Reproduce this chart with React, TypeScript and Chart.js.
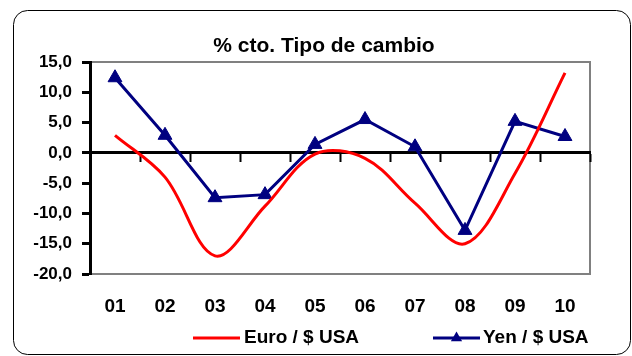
import React, { useEffect, useRef } from "react";
import { Chart, registerables } from "chart.js";

Chart.register(...registerables);

const categories = ["01", "02", "03", "04", "05", "06", "07", "08", "09", "10"];
const euroValues = [2.9, -4.0, -17.0, -8.8, -0.2, -0.9, -8.3, -15.0, -3.4, 13.2];
const yenValues = [12.4, 2.9, -7.4, -6.9, 1.4, 5.5, 1.0, -12.8, 5.2, 2.7];
const seriesLabels = ["Euro / $ USA", "Yen / $ USA"];
const seriesColors = ["#FF0000", "#000080"];
const chartTitle = "% cto. Tipo de cambio";
const yMin = -20;
const yMax = 15;
const yStep = 5;

const FONT = "'Liberation Sans', Arial, Helvetica, sans-serif";

const framePlugin = {
  id: "frame",
  beforeDraw(chart: any) {
    const ctx = chart.ctx;
    const a = chart.chartArea;
    ctx.save();
    ctx.fillStyle = "#ffffff";
    ctx.fillRect(0, 0, chart.width, chart.height);
    // outer rounded border
    ctx.strokeStyle = "#000000";
    ctx.lineWidth = 1;
    ctx.beginPath();
    (ctx as any).roundRect(13.5, 10.5, 617, 344, 14);
    ctx.stroke();
    // plot area gray border (top, right, bottom)
    ctx.strokeStyle = "#808080";
    ctx.lineWidth = 2;
    ctx.beginPath();
    ctx.moveTo(a.left, a.top);
    ctx.lineTo(a.right, a.top);
    ctx.lineTo(a.right, a.bottom);
    ctx.lineTo(a.left, a.bottom);
    ctx.stroke();
    ctx.restore();
  },
  afterDraw(chart: any) {
    const ctx = chart.ctx;
    ctx.save();
    // title
    ctx.fillStyle = "#000000";
    ctx.font = `bold 21px ${FONT}`;
    ctx.textAlign = "center";
    ctx.textBaseline = "middle";
    ctx.fillText(chartTitle, 324, 46);
    // legend
    const items = [
      { x0: 193, x1: 240, tx: 244, marker: false },
      { x0: 433, x1: 480, tx: 483, marker: true },
    ];
    const ly = 338;
    chart.data.datasets.forEach((ds: any, i: number) => {
      const it = items[i];
      ctx.strokeStyle = ds.borderColor;
      ctx.lineWidth = 3;
      ctx.beginPath();
      ctx.moveTo(it.x0, ly);
      ctx.lineTo(it.x1, ly);
      ctx.stroke();
      if (it.marker) {
        const cx = (it.x0 + it.x1) / 2;
        const r = 6.5;
        ctx.fillStyle = ds.borderColor;
        ctx.beginPath();
        ctx.moveTo(cx, ly - r);
        ctx.lineTo(cx + r * 0.866, ly + r * 0.5);
        ctx.lineTo(cx - r * 0.866, ly + r * 0.5);
        ctx.closePath();
        ctx.fill();
      }
      ctx.fillStyle = "#000000";
      ctx.font = `bold 19px ${FONT}`;
      ctx.textAlign = "left";
      ctx.textBaseline = "middle";
      ctx.fillText(ds.label, it.tx, ly);
    });
    ctx.restore();
  },
};

export default function App() {
  const ref = useRef<HTMLCanvasElement | null>(null);

  useEffect(() => {
    if (!ref.current) return;
    const chart = new Chart(ref.current, {
      type: "line",
      data: {
        labels: categories,
        datasets: [
          {
            label: seriesLabels[0],
            data: euroValues,
            borderColor: seriesColors[0],
            backgroundColor: seriesColors[0],
            borderWidth: 3,
            tension: 0.35,
            pointRadius: 0,
            fill: false,
          },
          {
            label: seriesLabels[1],
            data: yenValues,
            borderColor: seriesColors[1],
            backgroundColor: seriesColors[1],
            borderWidth: 3,
            tension: 0,
            pointStyle: "triangle",
            pointRadius: 8,
            pointBorderWidth: 1,
            pointBackgroundColor: seriesColors[1],
            pointBorderColor: seriesColors[1],
            fill: false,
          },
        ],
      },
      options: {
        responsive: false,
        animation: false,
        devicePixelRatio: 1,
        layout: { padding: { left: 0, right: 42, top: 62, bottom: 0 } },
        plugins: {
          legend: { display: false },
          title: { display: false },
          tooltip: { enabled: false },
        },
        scales: {
          x: {
            type: "category",
            position: "bottom",
            offset: true,
            grid: { display: false, drawTicks: false },
            border: { display: false },
            ticks: {
              color: "#000000",
              font: { family: FONT, size: 19, weight: "bold" },
              padding: 21,
              maxRotation: 0,
              autoSkip: false,
            },
            afterFit: (s: any) => {
              s.height = 82;
            },
          },
          x2: {
            type: "category",
            axis: "x",
            position: { y: 0 },
            offset: true,
            labels: categories,
            grid: {
              display: true,
              drawOnChartArea: false,
              drawTicks: true,
              tickLength: 8,
              tickWidth: 2,
              tickColor: "#000000",
              offset: true,
            },
            border: { display: true, color: "#000000", width: 3 },
            ticks: { display: false },
          },
          y: {
            type: "linear",
            position: "left",
            min: yMin,
            max: yMax,
            ticks: {
              stepSize: yStep,
              color: "#000000",
              font: { family: FONT, size: 17, weight: "bold" },
              padding: 10,
              callback: (v: any) => Number(v).toFixed(1).replace(".", ","),
            },
            grid: {
              display: true,
              drawOnChartArea: false,
              drawTicks: true,
              tickLength: 8,
              tickWidth: 3,
              tickColor: "#000000",
            },
            border: { display: true, color: "#000000", width: 3 },
            afterFit: (s: any) => {
              s.width = 90;
            },
          },
        },
      } as any,
      plugins: [framePlugin],
    });
    return () => chart.destroy();
  }, []);

  return (
    <div style={{ position: "fixed", left: 0, top: 0, width: 632, height: 356, background: "#fff" }}>
      <canvas ref={ref} width={632} height={356} style={{ display: "block" }} />
    </div>
  );
}
